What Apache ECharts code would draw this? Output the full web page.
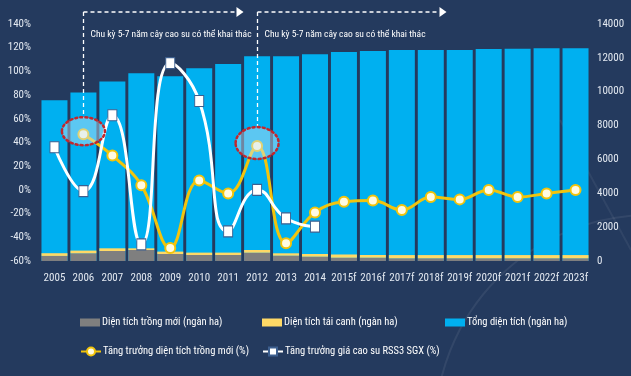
<!DOCTYPE html>
<html>
<head>
<meta charset="utf-8">
<script src="https://cdn.jsdelivr.net/npm/echarts@6/dist/echarts.min.js"></script>
<style>
  html, body { margin: 0; padding: 0; background: #243a5e; }
  #chart { width: 631px; height: 376px; }
</style>
</head>
<body>
<div id="chart"></div>
<script>
// categories
var years = ["2005", "2006", "2007", "2008", "2009", "2010", "2011", "2012", "2013", "2014",
  "2015f", "2016f", "2017f", "2018f", "2019f", "2020f", "2021f", "2022f", "2023f"];

// bars (ngàn ha), right axis
var newArea = [300, 455, 590, 650, 415, 355, 355, 490, 315, 255, 195, 195, 160, 160, 160, 160, 160, 160, 160];
var replantArea = [160, 160, 160, 100, 140, 140, 140, 160, 140, 160, 190, 160, 190, 190, 190, 190, 190, 190, 190];
var totalArea = [9490, 9960, 10610, 11090, 10910, 11390, 11630, 12100, 12100, 12220,
  12340, 12400, 12460, 12460, 12460, 12520, 12540, 12570, 12570];

// lines (%), left axis
var growthNew = [null, 47, 29, 4, -49, 8, -3, 37, -45, -19, -10, -9, -17, -6, -8, 0, -6, -3, 0];
var growthRss3 = [36, -1, 63, -46, 107, 75, -35, 0, -24, -31];

var leftTicks = { min: -60, max: 140, interval: 20 };
var rightTicks = { min: 0, max: 14000, interval: 2000 };

var noteText = "Chu kỳ 5-7 năm cây cao su có thể khai thác";
var font = "'Roboto Condensed', 'Liberation Sans', sans-serif";

var names = {
  gray: "Diện tích trồng mới (ngàn ha)",
  yellow: "Diện tích tái canh (ngàn ha)",
  blue: "Tổng diện tích (ngàn ha)",
  lineNew: "Tăng trưởng diện tích trồng mới (%)",
  lineRss: "Tăng trưởng giá cao su RSS3 SGX (%)"
};

var chart = echarts.init(document.getElementById("chart"));

function legendAt(name, left, top, h, icon) {
  var lg = {
    data: [name],
    left: left,
    top: top,
    itemWidth: 20,
    itemHeight: h,
    itemGap: 0,
    textStyle: { color: "#ffffff", fontSize: 10.5, fontFamily: font, padding: [0, 0, 0, -3] },
    selectedMode: false
  };
  if (icon) lg.icon = icon;
  return lg;
}

var option = {
  backgroundColor: "#243a5e",
  animation: false,
  textStyle: { fontFamily: font },
  grid: { left: 40, right: 41, top: 24, bottom: 115 },
  legend: [
    legendAt(names.gray, 75, 312, 8, "rect"),
    legendAt(names.yellow, 257, 312, 8, "rect"),
    legendAt(names.blue, 440, 312, 8, "rect"),
    legendAt(names.lineNew, 75, 341, 10),
    legendAt(names.lineRss, 257, 341, 10)
  ],
  xAxis: {
    type: "category",
    data: years,
    axisLine: { show: false },
    axisTick: { show: false },
    axisLabel: { color: "#e3e9f1", fontSize: 11, margin: 12, interval: 0, fontFamily: font }
  },
  yAxis: [
    {
      type: "value",
      position: "left",
      min: leftTicks.min,
      max: leftTicks.max,
      interval: leftTicks.interval,
      splitLine: { show: false },
      axisLine: { show: false },
      axisLabel: { color: "#e3e9f1", fontSize: 11, margin: 9, formatter: "{value}%", fontFamily: font }
    },
    {
      type: "value",
      position: "right",
      min: rightTicks.min,
      max: rightTicks.max,
      interval: rightTicks.interval,
      splitLine: { show: false },
      axisLine: { show: false },
      axisLabel: {
        color: "#e3e9f1", fontSize: 11, margin: 7, fontFamily: font,
        formatter: function (v) { return String(v); }
      }
    }
  ],
  series: [
    {
      name: names.blue,
      type: "bar",
      yAxisIndex: 1,
      data: totalArea,
      barWidth: 26,
      barGap: "-100%",
      itemStyle: { color: "#00b0f0" },
      z: 1
    },
    {
      name: names.gray,
      type: "bar",
      yAxisIndex: 1,
      stack: "area",
      data: newArea,
      barWidth: 26,
      itemStyle: { color: "#7f7f7f" },
      z: 2
    },
    {
      name: names.yellow,
      type: "bar",
      yAxisIndex: 1,
      stack: "area",
      data: replantArea,
      barWidth: 26,
      itemStyle: { color: "#ffd966" },
      z: 2
    },
    {
      name: names.lineNew,
      type: "line",
      yAxisIndex: 0,
      data: growthNew,
      smooth: 0.4,
      symbol: "circle",
      symbolSize: 10,
      lineStyle: { color: "#f2c40c", width: 3 },
      itemStyle: { color: "#fffbe3", borderColor: "#f2c40c", borderWidth: 2 },
      z: 5
    },
    {
      name: names.lineRss,
      type: "line",
      yAxisIndex: 0,
      data: growthRss3,
      smooth: 0.5,
      symbol: "rect",
      symbolSize: [9, 11],
      lineStyle: { color: "#ffffff", width: 3 },
      itemStyle: { color: "#ffffff", borderColor: "#3d5f8f", borderWidth: 1 },
      z: 6
    }
  ]
};

chart.setOption(option);

// annotations anchored to the highlighted points
var pA = chart.convertToPixel({ xAxisIndex: 0, yAxisIndex: 0 }, [years[1], growthNew[1]]);
var pB = chart.convertToPixel({ xAxisIndex: 0, yAxisIndex: 0 }, [years[7], growthNew[7]]);
var topY = 12;

function cycleNote(p, len, ry) {
  var x = Math.round(p[0]) + 0.5;
  var dash = { stroke: "#ffffff", lineWidth: 1.3, lineDash: [4, 3] };
  return [
    { type: "line", shape: { x1: x, y1: topY, x2: x, y2: p[1] - ry - 2 }, style: dash, z: 20 },
    { type: "line", shape: { x1: x, y1: topY, x2: x + len, y2: topY }, style: dash, z: 20 },
    {
      type: "polygon",
      shape: { points: [[x + len, topY - 5], [x + len + 7, topY], [x + len, topY + 5]] },
      style: { fill: "#ffffff" },
      z: 20
    },
    {
      type: "text",
      x: x + 7,
      y: 35,
      style: {
        text: noteText,
        fill: "#ffffff",
        font: "9.5px " + font,
        textVerticalAlign: "middle"
      },
      z: 20
    },
    {
      type: "ellipse",
      shape: { cx: p[0], cy: p[1] - 3, rx: 21.5, ry: ry },
      style: {
        fill: "rgba(205,228,243,0.45)",
        stroke: "#c1272d",
        lineWidth: 2.5,
        lineDash: [2, 3],
        lineCap: "round"
      },
      z: 30
    }
  ];
}

chart.setOption({
  graphic: [
    {
      type: "circle",
      shape: { cx: 650, cy: 430, r: 215 },
      style: { fill: "none", stroke: "rgba(255,255,255,0.07)", lineWidth: 2 },
      silent: true,
      z: -10
    },
    {
      type: "line",
      shape: { x1: 560, y1: 120, x2: 631, y2: 250 },
      style: { stroke: "rgba(255,255,255,0.06)", lineWidth: 2 },
      silent: true,
      z: -10
    }
  ].concat(cycleNote(pA, 153, 14)).concat(cycleNote(pB, 182, 16))
});
</script>
</body>
</html>
